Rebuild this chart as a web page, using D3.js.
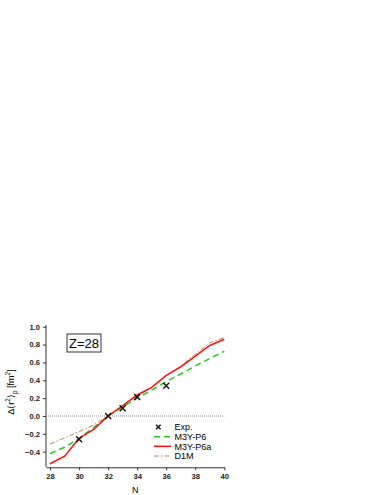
<!DOCTYPE html>
<html>
<head>
<meta charset="utf-8">
<script src="https://cdn.jsdelivr.net/npm/d3@7"></script>
<style>
  body { margin: 0; background: #fff; }
  svg { display: block; }
  text { font-family: "Liberation Sans", Arial, sans-serif; }
</style>
</head>
<body>
<div id="chart"></div>
<script>
//Datos
const neutrons = [28, 29, 30, 31, 32, 33, 34, 35, 36, 37, 38, 39, 40]
const m3yP6 = [-0.42, -0.35, -0.25, -0.13, 0.0, 0.10, 0.20, 0.29, 0.385, 0.47, 0.56, 0.645, 0.725]
const m3yP6a = [-0.535, -0.45, -0.25, -0.15, 0.0, 0.115, 0.235, 0.32, 0.455, 0.55, 0.67, 0.79, 0.86]
const d1m = [-0.315, -0.245, -0.175, -0.1, 0.0, 0.11, 0.22, 0.32, 0.45, 0.56, 0.69, 0.82, 0.88]
const expN = [30, 32, 33, 34, 36]
const expVal = [-0.26, 0.0, 0.087, 0.213, 0.338]
const xTicks = [28, 30, 32, 34, 36, 38, 40]
const yTicks = [-0.4, -0.2, 0.0, 0.2, 0.4, 0.6, 0.8, 1.0]
const legendNames = ['Exp.', 'M3Y-P6', 'M3Y-P6a', 'D1M']

//Constantes
const width = 383
const height = 495
const plotLeft = 46
const plotRight = 224.3
const plotTop = 326.7
const plotBottom = 467.3

const svg = d3.select('#chart')
    .append('svg')
    .attr('width', width)
    .attr('height', height)

//Escalas
const x = d3.scaleLinear()
    .domain([27.72, 40])
    .range([plotLeft, plotRight])
const y = d3.scaleLinear()
    .domain([-0.575, 1.0])
    .range([plotBottom, plotTop])

//Ejes
const axisX = d3.axisBottom(x)
    .tickValues(xTicks)
    .tickSize(3)
    .tickPadding(3)
    .tickSizeOuter(0)
    .tickFormat(d3.format('d'))
const axisY = d3.axisLeft(y)
    .tickValues(yTicks)
    .tickSize(3)
    .tickPadding(3)
    .tickSizeOuter(0)
    .tickFormat(d3.format('.1f'))

const gx = svg.append('g')
    .attr('transform', `translate(0, ${plotBottom})`)
    .call(axisX)
const gy = svg.append('g')
    .attr('transform', `translate(${plotLeft}, 0)`)
    .call(axisY)
gy.select('.domain').attr('d', `M0,${plotTop - 1.5}V${plotBottom}`)

svg.selectAll('.tick text')
    .attr('font-size', 7.6)
    .attr('font-weight', 'bold')
    .attr('fill', '#222')
    .style('font-family', '"Liberation Sans", Arial, sans-serif')
svg.selectAll('.domain, .tick line').attr('stroke', '#333')

//Titulos de ejes
svg.append('text')
    .attr('x', (plotLeft + plotRight) / 2)
    .attr('y', 493)
    .attr('text-anchor', 'middle')
    .attr('font-size', 9)
    .text('N')

const yLabel = svg.append('text')
    .attr('transform', `translate(14, 392) rotate(-90)`)
    .attr('text-anchor', 'middle')
    .attr('font-size', 9)
yLabel.append('tspan').text('\u0394\u27e8r')
yLabel.append('tspan').attr('dy', -4).attr('font-size', 6.5).text('2')
yLabel.append('tspan').attr('dy', 4).text('\u27e9')
yLabel.append('tspan').attr('dy', 2.5).attr('font-size', 6.5).text('p')
yLabel.append('tspan').attr('dy', -2.5).text(' [fm')
yLabel.append('tspan').attr('dy', -4).attr('font-size', 6.5).text('2')
yLabel.append('tspan').attr('dy', 4).text(']')

//Linea de cero
svg.append('line')
    .attr('x1', plotLeft)
    .attr('x2', plotRight)
    .attr('y1', y(0))
    .attr('y2', y(0))
    .attr('stroke', '#888')
    .attr('stroke-width', 1)
    .attr('stroke-dasharray', '1,1')

//Series
const line = d3.line()
    .x(d => x(d[0]))
    .y(d => y(d[1]))

const series = [
    { name: 'D1M', values: d1m, color: '#c8805a', width: 1, dash: '5,2,1.5,2' },
    { name: 'M3Y-P6', values: m3yP6, color: '#22cc22', width: 1.5, dash: '6,4' },
    { name: 'M3Y-P6a', values: m3yP6a, color: '#ff1010', width: 1.5, dash: null }
]

series.forEach(s => {
    svg.append('path')
        .datum(neutrons.map((n, i) => [n, s.values[i]]))
        .attr('d', line)
        .attr('fill', 'none')
        .attr('stroke', s.color)
        .attr('stroke-width', s.width)
        .attr('stroke-dasharray', s.dash)
})

//Puntos experimentales
function cross(g, cx, cy, r) {
    g.append('path')
        .attr('d', `M${cx - r},${cy - r}L${cx + r},${cy + r}M${cx - r},${cy + r}L${cx + r},${cy - r}`)
        .attr('stroke', '#111')
        .attr('stroke-width', 1.4)
}
const gExp = svg.append('g')
expN.forEach((n, i) => cross(gExp, x(n), y(expVal[i]), 3))

//Caja Z=28
const boxG = svg.append('g')
boxG.append('rect')
    .attr('x', 67)
    .attr('y', 334)
    .attr('width', 34)
    .attr('height', 18)
    .attr('fill', '#fff')
    .attr('stroke', '#333')
    .attr('stroke-width', 1)
boxG.append('text')
    .attr('x', 84)
    .attr('y', 348)
    .attr('text-anchor', 'middle')
    .attr('font-size', 13)
    .text('Z=28')

//Leyenda
const legendY = [427, 436.7, 446.3, 456]
const legend = svg.append('g')
legendNames.forEach((name, i) => {
    const ly = legendY[i]
    if (i === 0) {
        cross(legend, 158.3, ly, 2.3)
    } else {
        const s = series.find(d => d.name === name)
        legend.append('line')
            .attr('x1', 154)
            .attr('x2', 171)
            .attr('y1', ly)
            .attr('y2', ly)
            .attr('stroke', s.color)
            .attr('stroke-width', s.width)
            .attr('stroke-dasharray', s.dash)
    }
    legend.append('text')
        .attr('x', 174.5)
        .attr('y', ly + 3.3)
        .attr('font-size', 9)
        .text(name)
})
</script>
</body>
</html>
